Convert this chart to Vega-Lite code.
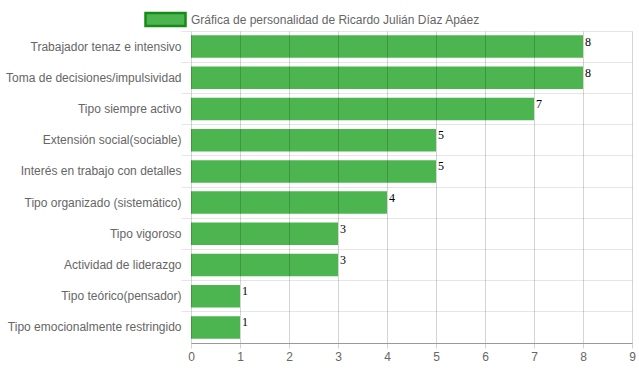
{
  "$schema": "https://vega.github.io/schema/vega-lite/v6.json",
  "width": 441,
  "height": 312,
  "autosize": {"type": "none"},
  "padding": {"left": 191, "top": 31, "right": 7, "bottom": 29},
  "background": "white",
  "config": {
    "view": {"stroke": null},
    "font": "Liberation Sans"
  },
  "data": {
    "values": [
      {"rasgo": "Trabajador tenaz e intensivo", "valor": 8},
      {"rasgo": "Toma de decisiones/impulsividad", "valor": 8},
      {"rasgo": "Tipo siempre activo", "valor": 7},
      {"rasgo": "Extensión social(sociable)", "valor": 5},
      {"rasgo": "Interés en trabajo con detalles", "valor": 5},
      {"rasgo": "Tipo organizado (sistemático)", "valor": 4},
      {"rasgo": "Tipo vigoroso", "valor": 3},
      {"rasgo": "Actividad de liderazgo", "valor": 3},
      {"rasgo": "Tipo teórico(pensador)", "valor": 1},
      {"rasgo": "Tipo emocionalmente restringido", "valor": 1}
    ]
  },
  "encoding": {
    "y": {
      "field": "rasgo",
      "type": "nominal",
      "sort": null,
      "scale": {"paddingInner": 0, "paddingOuter": 0},
      "axis": {
        "title": null,
        "domain": false,
        "grid": true,
        "bandPosition": 0,
        "gridColor": "#e6e6e6",
        "tickColor": "#e6e6e6",
        "tickSize": 10,
        "labelPadding": 0,
        "labelFont": "Liberation Sans",
        "labelFontSize": 12,
        "labelColor": "#666666",
        "labelLimit": 300
      }
    },
    "x": {
      "field": "valor",
      "type": "quantitative",
      "scale": {"domain": [0, 9], "nice": false},
      "axis": {
        "title": null,
        "values": [0, 1, 2, 3, 4, 5, 6, 7, 8, 9],
        "labelOverlap": false,
        "labelFlush": false,
        "grid": true,
        "gridColor": "rgba(0,0,0,0.17)",
        "tickColor": "rgba(0,0,0,0.17)",
        "tickSize": 5,
        "domainColor": "#999999",
        "labelPadding": 3,
        "labelFont": "Liberation Sans",
        "labelFontSize": 12,
        "labelColor": "#666666",
        "zindex": 1
      }
    }
  },
  "layer": [
    {
      "mark": {"type": "bar", "height": {"band": 0.72}, "fill": "#4cb54f"},
      "encoding": {
        "color": {
          "datum": "Gráfica de personalidad de Ricardo Julián Díaz Apáez",
          "scale": {"range": ["#4cb54f"]},
          "legend": {
            "title": null,
            "orient": "none",
            "legendX": -47,
            "legendY": -33,
            "symbolType": "M-1,-0.325H1V0.325H-1Z",
            "symbolSize": 1600,
            "symbolFillColor": "#4cb54f",
            "symbolStrokeColor": "#168c16",
            "symbolStrokeWidth": 2.5,
            "symbolOpacity": 1,
            "labelFont": "Liberation Sans",
            "labelFontSize": 12,
            "labelColor": "#666666",
            "labelOffset": 4,
            "labelLimit": 500
          }
        }
      }
    },
    {
      "mark": {
        "type": "text",
        "align": "left",
        "baseline": "top",
        "dx": 2,
        "dy": -10,
        "font": "Liberation Serif",
        "fontSize": 12,
        "color": "black"
      },
      "encoding": {"text": {"field": "valor", "type": "quantitative"}}
    }
  ]
}
